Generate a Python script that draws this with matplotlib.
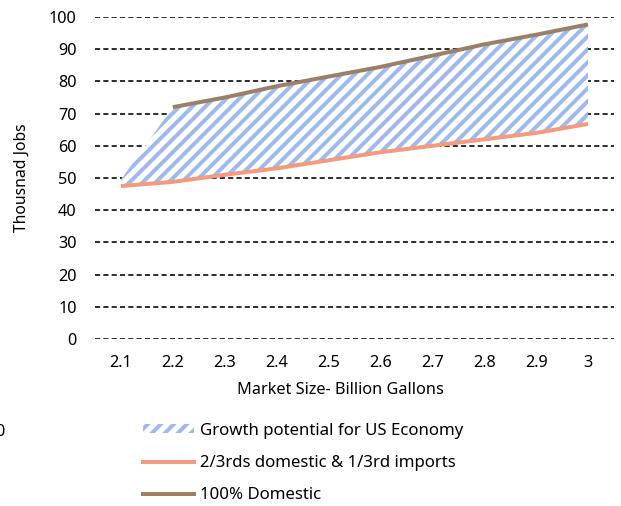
import matplotlib
matplotlib.use("Agg")
import matplotlib.pyplot as plt
import numpy as np
from matplotlib.patches import Patch
from matplotlib.lines import Line2D

# Market size (billion gallons)
market_size = [2.1, 2.2, 2.3, 2.4, 2.5, 2.6, 2.7, 2.8, 2.9, 3.0]
# Thousand jobs, 2/3 domestic & 1/3 imports
partial_domestic = [47.5, 48.8, 51.0, 53.0, 55.5, 58.0, 60.0, 62.0, 64.0, 66.8]
# Thousand jobs, 100% domestic (no value at 2.1)
full_domestic = [np.nan, 72.0, 75.0, 78.5, 81.5, 84.5, 88.0, 91.5, 94.5, 97.7]
# Upper edge of the growth-potential band
growth_upper = [49.5, 72.0, 75.0, 78.5, 81.5, 84.5, 88.0, 91.5, 94.5, 97.7]

y_ticks = [0, 10, 20, 30, 40, 50, 60, 70, 80, 90, 100]
x_tick_labels = ["2.1", "2.2", "2.3", "2.4", "2.5", "2.6", "2.7", "2.8", "2.9", "3"]

DPI = 78
W, H = 621, 506
PT = 72.0 / DPI  # points per pixel

plt.rcParams["font.family"] = ["Noto Sans", "DejaVu Sans"]
plt.rcParams["hatch.linewidth"] = 4.0 * PT

fig = plt.figure(figsize=(W / DPI, H / DPI), dpi=DPI)
ax = fig.add_axes([95 / W, 1 - 339 / H, (614 - 95) / W, (339 - 17) / H])

orange = "#F49A7E"
brown = "#9C7F66"
stripe = "#9DBBEC"

# Dashed horizontal gridlines
for yv in y_ticks:
    ax.axhline(yv, color="black", lw=1.6 * PT, ls=(0, (3.2, 2.0)), zorder=1)

# Hatched growth band between the two scenarios
ax.fill_between(market_size, partial_domestic, growth_upper,
                facecolor="white", edgecolor=stripe, linewidth=0,
                hatch="//", zorder=2)

ax.plot(market_size, partial_domestic, color=orange, lw=4.0 * PT,
        solid_capstyle="butt", zorder=3)
ax.plot(market_size, full_domestic, color=brown, lw=4.0 * PT,
        solid_capstyle="butt", zorder=3)

ax.set_xlim(2.05, 3.05)
ax.set_ylim(0, 100)
ax.set_xticks(market_size)
ax.set_xticklabels(x_tick_labels)
ax.set_yticks(y_ticks)
for s in ax.spines.values():
    s.set_visible(False)
ax.tick_params(axis="both", length=0, labelsize=15)
ax.tick_params(axis="y", pad=17)
ax.tick_params(axis="x", pad=15)

fig.text(22 / W, 1 - 178 / H, "Thousnad Jobs", rotation=90,
         ha="center", va="center", fontsize=14.5)
fig.text(340 / W, 1 - 390 / H, "Market Size- Billion Gallons",
         ha="center", va="center", fontsize=15)

handles = [
    Patch(facecolor="white", edgecolor=stripe, linewidth=0, hatch="//"),
    Line2D([], [], color=orange, lw=4.0 * PT),
    Line2D([], [], color=brown, lw=4.0 * PT),
]
labels = ["Growth potential for US Economy",
          "2/3rds domestic & 1/3rd imports",
          "100% Domestic"]
leg = fig.legend(handles, labels, loc="upper left",
                 bbox_to_anchor=(131 / W, 1 - 411 / H),
                 frameon=False, fontsize=15.5, handlelength=3.05,
                 handleheight=0.45, handletextpad=0.35, labelspacing=0.97,
                 borderpad=0.2)

# partially clipped label at the left edge
fig.text(4 / W, 1 - 432 / H, "0", ha="right", va="center", fontsize=15)

fig.savefig("out.png", dpi=DPI)
